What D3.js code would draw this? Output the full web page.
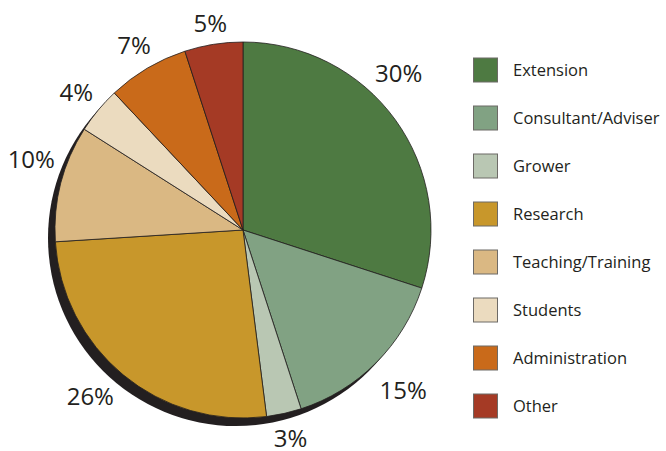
<!DOCTYPE html>
<html>
<head>
<meta charset="utf-8">
<script src="https://cdn.jsdelivr.net/npm/d3@7"></script>
<style>
  html, body { margin: 0; padding: 0; background: #fff; }
  text { font-family: "Open Sans", "Noto Sans", sans-serif; fill: #231f20; }
</style>
</head>
<body>
<div id="chart"></div>
<script>
'use strict';

const categories = ['Extension', 'Consultant/Adviser', 'Grower', 'Research',
  'Teaching/Training', 'Students', 'Administration', 'Other'];
const shares = [30, 15, 3, 26, 10, 4, 7, 5];
const colors = ['#4e7a42', '#81a283', '#b9c7b3', '#c8972b',
  '#dab883', '#ebdbbf', '#c96a1a', '#a53a25'];

const width = 666;
const height = 451;
const cx = 243;
const cy = 230;
const radius = 188;
const shadow = { dx: -7, dy: 8 };
const labelGap = 10;
const labelSize = 24;
// a few labels sit a bit off their slice middle in the original (radians)
const labelNudge = { 'Extension': -0.16, 'Research': 0.05, 'Teaching/Training': 0.07 };

const svg = d3.select('#chart').append('svg')
  .attr('width', width)
  .attr('height', height);

const data = categories.map(function (c, i) {
  return { name: c, value: shares[i], color: colors[i] };
});

const pie = d3.pie()
  .sort(null)
  .value(function (d) { return d.value; });

const arcs = pie(data);

const arc = d3.arc()
  .innerRadius(0)
  .outerRadius(radius);

// drop shadow
svg.append('circle')
  .attr('cx', cx + shadow.dx)
  .attr('cy', cy + shadow.dy)
  .attr('r', radius)
  .attr('fill', '#231f20');

const chart = svg.append('g')
  .attr('transform', `translate(${cx}, ${cy})`);

chart.selectAll('path.slice')
  .data(arcs)
  .enter()
  .append('path')
  .attr('class', 'slice')
  .attr('d', arc)
  .attr('fill', function (d) { return d.data.color; })
  .attr('stroke', '#231f20')
  .attr('stroke-width', 0.8);

const labels = chart.selectAll('text.pct')
  .data(arcs)
  .enter()
  .append('text')
  .attr('class', 'pct')
  .attr('text-anchor', 'middle')
  .attr('font-size', labelSize + 'px')
  .text(function (d) { return d.data.value + '%'; });

// push each label out until its box clears the pie (and the shadow below it)
labels.each(function (d) {
  const node = d3.select(this);
  const w = this.getComputedTextLength();
  const h = labelSize * 0.714;
  const a = (d.startAngle + d.endAngle) / 2 + (labelNudge[d.data.name] || 0);
  const nx = Math.sin(a);
  const ny = -Math.cos(a);
  const ext = Math.abs(nx) * w / 2 + Math.abs(ny) * h / 2;
  const sh = Math.max(0, ny * shadow.dy);
  const r = radius + labelGap + sh + ext;
  // keep the baseline inside the picture
  const baseline = Math.min(r * ny + h / 2, height - cy - 4);
  node.attr('x', r * nx)
    .attr('y', baseline);
});

// legend
const legendY = d3.scaleBand()
  .domain(categories)
  .range([46, 430]);

const legend = svg.append('g')
  .attr('transform', 'translate(473, 0)');

const items = legend.selectAll('g.item')
  .data(data)
  .enter()
  .append('g')
  .attr('class', 'item')
  .attr('transform', function (d) {
    return `translate(0, ${legendY(d.name) + legendY.bandwidth() / 2})`;
  });

items.append('rect')
  .attr('x', 0.5)
  .attr('y', -12)
  .attr('width', 24)
  .attr('height', 24)
  .attr('fill', function (d) { return d.color; })
  .attr('stroke', '#6d6a66')
  .attr('stroke-width', 1);

items.append('text')
  .attr('x', 40)
  .attr('y', 6)
  .attr('font-size', '16.5px')
  .text(function (d) { return d.name; });
</script>
</body>
</html>
